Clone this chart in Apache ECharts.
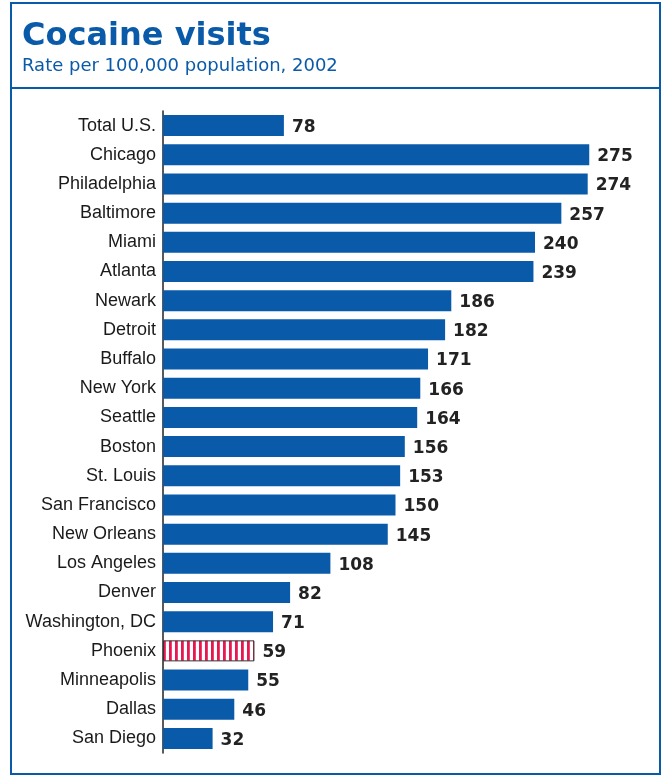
<!DOCTYPE html>
<html lang="en">
<head>
  <meta charset="UTF-8">
  <title>Cocaine visits</title>
  <script src="https://cdn.jsdelivr.net/npm/echarts@6/dist/echarts.min.js"></script>
  <style>
    html, body { margin: 0; padding: 0; background: #fff; }
  </style>
</head>
<body>
<div id="main" style="width:663px;height:778px;"></div>
<script>
  // data
  const cities = [
    'Total U.S.', 'Chicago', 'Philadelphia', 'Baltimore', 'Miami', 'Atlanta',
    'Newark', 'Detroit', 'Buffalo', 'New York', 'Seattle', 'Boston',
    'St. Louis', 'San Francisco', 'New Orleans', 'Los Angeles', 'Denver',
    'Washington, DC', 'Phoenix', 'Minneapolis', 'Dallas', 'San Diego'
  ];
  const rates = [
    78, 275, 274, 257, 240, 239,
    186, 182, 171, 166, 164, 156,
    153, 150, 145, 108, 82,
    71, 59, 55, 46, 32
  ];
  const highlight = 'Phoenix';

  const blue = '#0a5aaa';

  // striped fill for the highlighted bar
  const stripe = document.createElement('canvas');
  stripe.width = 6;
  stripe.height = 6;
  const sctx = stripe.getContext('2d');
  sctx.fillStyle = '#ffffff';
  sctx.fillRect(0, 0, 6, 6);
  sctx.fillStyle = '#e8174f';
  sctx.fillRect(1, 0, 2.8, 6);

  const barData = cities.map(function (c, i) {
    if (c === highlight) {
      return {
        value: rates[i],
        itemStyle: {
          color: { image: stripe, repeat: 'repeat' },
          borderColor: '#333',
          borderWidth: 1
        }
      };
    }
    return rates[i];
  });

  const chart = echarts.init(document.getElementById('main'));
  chart.setOption({
    animation: false,
    graphic: [
      {
        type: 'rect',
        shape: { x: 11, y: 3, width: 649, height: 771 },
        style: { fill: 'none', stroke: blue, lineWidth: 2 }
      },
      {
        type: 'line',
        shape: { x1: 11, y1: 88, x2: 660, y2: 88 },
        style: { stroke: blue, lineWidth: 2 }
      },
      {
        type: 'text',
        left: 22,
        top: 21,
        style: {
          text: 'Cocaine visits',
          fill: blue,
          font: 'bold 32px "DejaVu Sans", sans-serif'
        }
      },
      {
        type: 'text',
        left: 22,
        top: 57,
        style: {
          text: 'Rate per 100,000 population, 2002',
          fill: blue,
          font: '18px "DejaVu Sans", sans-serif'
        }
      }
    ],
    grid: {
      left: 163,
      right: 35,
      top: 111,
      bottom: 25,
      containLabel: false
    },
    xAxis: {
      type: 'value',
      min: 0,
      max: 300,
      show: false
    },
    yAxis: {
      type: 'category',
      data: cities,
      inverse: true,
      axisLine: { show: true, lineStyle: { color: '#222', width: 1.5 } },
      axisTick: { show: false },
      axisLabel: {
        color: '#1a1a1a',
        fontSize: 18,
        fontFamily: '"Liberation Sans", Arial, sans-serif',
        margin: 7
      }
    },
    series: [
      {
        type: 'bar',
        data: barData,
        barWidth: 21,
        itemStyle: { color: blue },
        label: {
          show: true,
          position: 'right',
          distance: 8,
          offset: [0, 2],
          color: '#222',
          fontSize: 17,
          fontWeight: 'bold',
          fontFamily: '"DejaVu Sans", sans-serif'
        }
      }
    ]
  });
</script>
</body>
</html>
